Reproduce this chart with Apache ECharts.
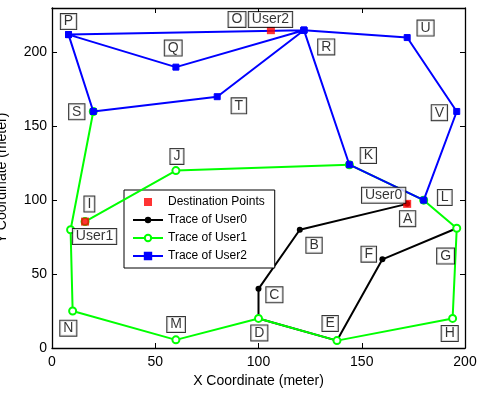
<!DOCTYPE html>
<html>
<head>
<meta charset="utf-8">
<script src="https://cdn.jsdelivr.net/npm/echarts@6/dist/echarts.min.js"></script>
<style>
  html, body { margin: 0; padding: 0; background: #fff; }
  #chart { width: 477px; height: 393px; }
</style>
</head>
<body>
<div id="chart"></div>
<script>
// Destination of each user (meters)
const destNames = ['User0', 'User1', 'User2'];
const destX = [172, 16, 106];
const destY = [97.5, 85.5, 215];

// Trace of User0: G - F - E - D - C - B - A
const user0X = [196, 160, 138, 100, 100, 120, 172];
const user0Y = [81, 60, 5, 20, 40, 80, 97.5];

// Trace of User1: S - N - M - D - E - H - G - L - K - J - I
const user1X = [20, 9, 10, 60, 100, 138, 194, 196, 180, 144, 60, 16];
const user1Y = [160, 80, 25, 5.5, 20, 5, 20, 81, 100, 124, 120, 85.5];

// Trace of User2: P - Q - R - U - V - L - K - R - T - S - P - R
const user2X = [8, 60, 122, 172, 196, 180, 144, 122, 80, 20, 8, 122];
const user2Y = [212, 190, 215, 210, 160, 100, 124, 215, 170, 160, 212, 215];

// Landmark captions (text anchored at these coordinates)
const tagNames = ['P', 'O', 'Q', 'R', 'S', 'T', 'U', 'V', 'J', 'K', 'L', 'I',
                  'A', 'B', 'C', 'D', 'E', 'F', 'G', 'H', 'M', 'N',
                  'User0', 'User1', 'User2'];
const tagX = [8, 89.6, 58.7, 132.8, 12, 90.5, 180.9, 187.6, 60.5, 153.2, 190.2, 18.1,
              172.2, 126.9, 107.7, 100.4, 134.7, 153.4, 190.6, 192.6, 60.1, 7.9,
              160.6, 20.6, 105.8];
const tagY = [220.8, 222.3, 202.9, 203.7, 159.8, 163.8, 216.4, 159.2, 129.6, 130.2, 101.8, 97.4,
              87.5, 69.5, 36, 10.2, 16.6, 63.5, 62.2, 9.8, 15.9, 13.4,
              103.4, 75.4, 222.3];

// Axis ticks
const xTicks = [0, 50, 100, 150, 200];
const yTicks = [0, 50, 100, 150, 200];
const xMax = 200;
const yMax = 230;

const pairs = (xs, ys) => xs.map((x, i) => [x, ys[i]]);
const FONT = '"Liberation Sans", Arial, Helvetica, sans-serif';

const chart = echarts.init(document.getElementById('chart'), null, { renderer: 'canvas' });

const axisCommon = {
  type: 'value',
  interval: 50,
  axisLine: { show: true, onZero: false, lineStyle: { color: '#000', width: 1.3 } },
  axisTick: { show: true, inside: true, length: 5, lineStyle: { color: '#000' } },
  splitLine: { show: false }
};

const option = {
  backgroundColor: '#fff',
  animation: false,
  grid: { left: 52, right: 12, top: 8, bottom: 45, containLabel: false, outerBoundsMode: 'none' },
  xAxis: [
    Object.assign({}, axisCommon, {
      min: 0, max: xMax, position: 'bottom',
      name: 'X Coordinate (meter)', nameLocation: 'middle', nameGap: 20,
      nameTextStyle: { fontFamily: FONT, fontSize: 14, color: '#000' },
      axisLabel: {
        fontFamily: FONT, fontSize: 14, color: '#000', margin: 7,
        formatter: v => (xTicks.includes(v) ? String(v) : '')
      }
    }),
    Object.assign({}, axisCommon, {
      min: 0, max: xMax, position: 'top', axisLabel: { show: false }
    })
  ],
  yAxis: [
    Object.assign({}, axisCommon, {
      min: 0, max: yMax, position: 'left',
      name: 'Y Coordinate (meter)', nameLocation: 'middle', nameGap: 43,
      nameTextStyle: { fontFamily: FONT, fontSize: 14, color: '#000' },
      axisLabel: {
        fontFamily: FONT, fontSize: 14, color: '#000', margin: 5,
        showMaxLabel: false,
        formatter: v => (yTicks.includes(v) ? String(v) : '')
      }
    }),
    Object.assign({}, axisCommon, {
      min: 0, max: yMax, position: 'right', axisLabel: { show: false }
    })
  ],
  legend: {
    orient: 'vertical',
    left: 124, top: 190,
    backgroundColor: '#fff',
    borderColor: '#000', borderWidth: 1,
    padding: [5, 10, 5, 8],
    itemWidth: 30, itemHeight: 8, itemGap: 4,
    symbolKeepAspect: true,
    textStyle: { fontFamily: FONT, fontSize: 12, color: '#000', lineHeight: 14 },
    data: [
      { name: 'Destination Points', icon: 'path://M0,0L1,0L1,1L0,1Z' },
      'Trace of User0', 'Trace of User1', 'Trace of User2'
    ]
  },
  series: [
    {
      name: 'Trace of User0', type: 'line', z: 3,
      data: pairs(user0X, user0Y),
      lineStyle: { color: '#000', width: 2 },
      itemStyle: { color: '#000' },
      symbol: 'circle', symbolSize: 6, showAllSymbol: true
    },
    {
      name: 'Trace of User1', type: 'line', z: 4,
      data: pairs(user1X, user1Y),
      lineStyle: { color: '#00ff00', width: 2 },
      itemStyle: { color: '#00ff00', borderColor: '#00ff00', borderWidth: 2 },
      symbol: 'emptyCircle', symbolSize: 7, showAllSymbol: true
    },
    {
      name: 'Trace of User2', type: 'line', z: 5,
      data: pairs(user2X, user2Y),
      lineStyle: { color: '#0000ff', width: 2 },
      itemStyle: { color: '#0000ff', borderColor: '#0000ff', borderWidth: 1 },
      symbol: 'rect', symbolSize: 6, showAllSymbol: true
    },
    {
      name: 'Destination Points', type: 'scatter', z: 6,
      data: pairs(destX, destY).map((p, i) => ({ value: p, name: destNames[i] })),
      symbol: 'rect', symbolSize: 8,
      itemStyle: { color: '#ff0000' }
    },
    {
      name: 'tags', type: 'scatter', z: 7,
      silent: true,
      data: pairs(tagX, tagY).map((p, i) => ({ value: p, name: tagNames[i] })),
      symbolSize: 1,
      itemStyle: { color: 'rgba(0,0,0,0)' },
      label: {
        show: true, position: 'inside', formatter: '{b}',
        fontFamily: FONT, fontSize: 14, color: '#000',
        backgroundColor: '#fff', borderColor: '#000', borderWidth: 1,
        padding: [1, 3, 0, 3]
      }
    }
  ]
};

chart.setOption(option);
</script>
</body>
</html>
